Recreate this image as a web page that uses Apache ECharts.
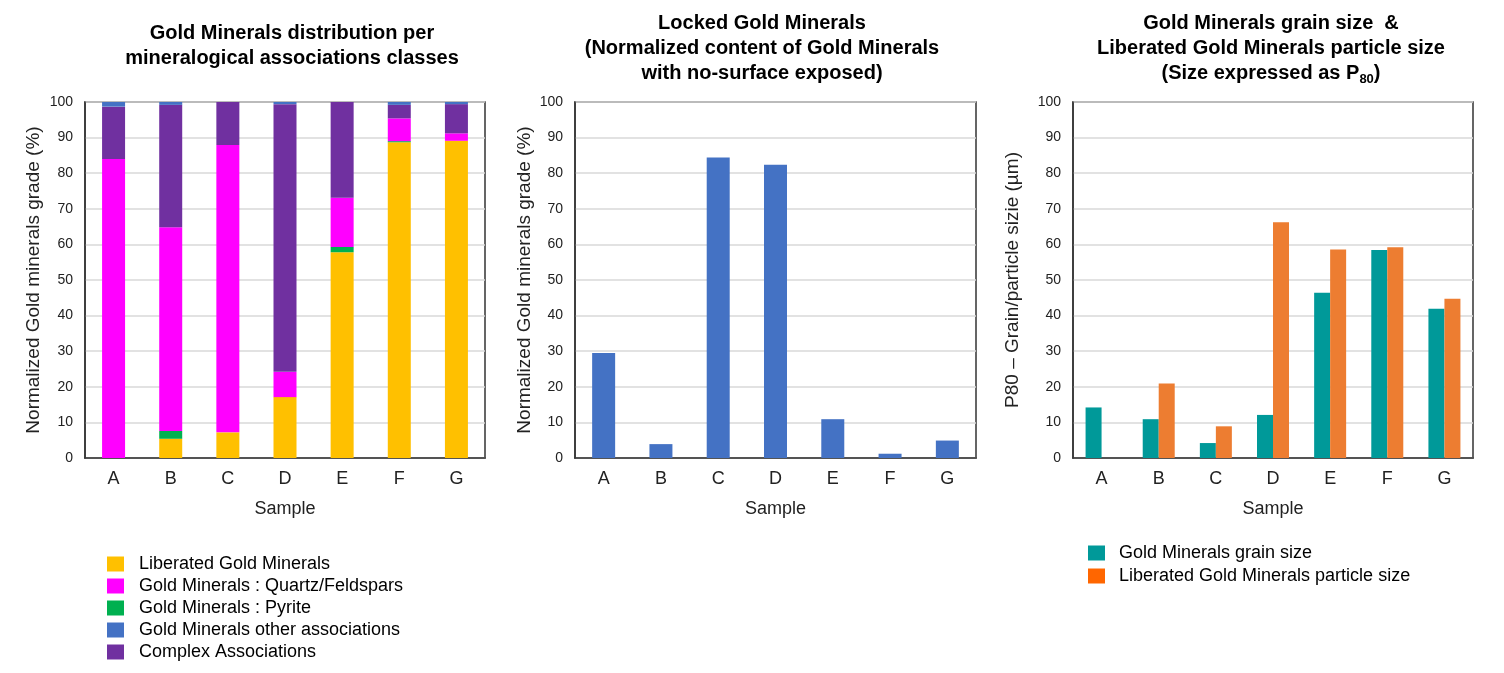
<!DOCTYPE html>
<html><head><meta charset="utf-8">
<script src="https://cdn.jsdelivr.net/npm/echarts@6/dist/echarts.min.js"></script>
<style>html,body{margin:0;padding:0;background:#fff}#c{width:1504px;height:673px}</style>
</head><body><div id="c"></div>
<script>
const samples = ['A','B','C','D','E','F','G'];
const yTicks = [0,10,20,30,40,50,60,70,80,90,100];
// Chart 1: mineralogical association classes (%)
const liberated = [0, 5.4, 7.2, 17.1, 57.8, 88.7, 89.1];
const pyrite = [0, 2.2, 0, 0, 1.5, 0.3, 0];
const quartzFeldspars = [84.0, 57.2, 80.7, 7.1, 13.8, 6.4, 2.1];
const complexAssoc = [14.7, 34.4, 12.1, 75.2, 26.9, 3.8, 8.2];
const otherAssoc = [1.3, 0.8, 0, 0.6, 0, 0.8, 0.6];
// Chart 2: locked gold minerals (%)
const locked = [29.5, 3.9, 84.4, 82.4, 10.9, 1.2, 4.9];
// Chart 3: P80 sizes (µm)
const grainSize = [14.2, 10.9, 4.2, 12.1, 46.4, 58.4, 41.9];
const particleSize = [0, 20.9, 8.9, 66.2, 58.6, 59.2, 44.7];

const FONT = 'Liberation Sans, Arial, sans-serif';
const C = {yellow:'#FFC000', magenta:'#FF00FF', green:'#00B050', blue:'#4472C4', purple:'#7030A0', teal:'#009999', orange:'#ED7D31'};

const grids = [
  {left:85, top:102, width:400, height:356},
  {left:575, top:102, width:401, height:356},
  {left:1073, top:102, width:400, height:356}
];
const yNames = ['Normalized Gold minerals grade (%)','Normalized Gold minerals grade (%)','P80 \u2013 Grain/particle sizie (\u00b5m)'];
const yGaps = [42, 41, 51];
const titleStyle = {fontFamily:FONT, fontSize:20, fontWeight:'bold', color:'#000', lineHeight:25};

const option = {
  animation:false,
  textStyle:{fontFamily:FONT},
  title:[
    {text:'Gold Minerals distribution per\nmineralogical associations classes', left:287, top:16, textAlign:'center', textStyle:titleStyle},
    {text:'Locked Gold Minerals\n(Normalized content of Gold Minerals\nwith no-surface exposed)', left:757, top:6, textAlign:'center', textStyle:titleStyle},
    {text:'Gold Minerals grain size  &\nLiberated Gold Minerals particle size\n(Size expressed as P{s|80})', left:1266, top:6, textAlign:'center',
     textStyle:Object.assign({}, titleStyle, {
       rich:{s:{fontFamily:FONT, fontSize:13, fontWeight:'bold', color:'#000', verticalAlign:'bottom', padding:[10,0,0,0]}}})}
  ],
  legend:[
    {orient:'vertical', left:102, top:550, icon:'rect', itemWidth:17, itemHeight:15, itemGap:4,
     textStyle:{fontFamily:FONT, fontSize:18, color:'#000', padding:[0,0,0,10]},
     data:['Liberated Gold Minerals','Gold Minerals : Quartz/Feldspars','Gold Minerals : Pyrite','Gold Minerals other associations','Complex Associations']},
    {orient:'vertical', left:1083, top:539, icon:'rect', itemWidth:17, itemHeight:15, itemGap:5,
     textStyle:{fontFamily:FONT, fontSize:18, color:'#000', padding:[0,0,0,9]},
     data:[{name:'Gold Minerals grain size', itemStyle:{color:'#009999'}},{name:'Liberated Gold Minerals particle size', itemStyle:{color:'#FF6600'}}]}
  ],
  grid: grids.map(g => Object.assign({show:true, borderColor:'#333', borderWidth:1.5, backgroundColor:'#fff'}, g)),
  xAxis: grids.map((g,i) => ({
    type:'category', gridIndex:i, data:samples,
    name:'Sample', nameLocation:'middle', nameGap:42,
    nameTextStyle:{fontFamily:FONT, fontSize:18, color:'#222'},
    axisLine:{lineStyle:{color:'#333', width:1.5}}, axisTick:{show:false},
    axisLabel:{fontFamily:FONT, fontSize:18, color:'#222', margin:12}
  })),
  yAxis: grids.map((g,i) => ({
    type:'value', gridIndex:i, min:0, max:100, interval:10,
    name:yNames[i], nameLocation:'middle', nameGap:yGaps[i],
    nameTextStyle:{fontFamily:FONT, fontSize:19, color:'#222'},
    axisLine:{show:true, lineStyle:{color:'#333', width:1.5}}, axisTick:{show:false},
    axisLabel:{fontFamily:FONT, fontSize:14, color:'#222', margin:12,
      formatter: v => yTicks.includes(v) ? String(v) : ''},
    splitLine:{lineStyle:{color:'#D9D9D9', width:1.5}}
  })),
  series:[
    {name:'Liberated Gold Minerals', type:'bar', stack:'s', xAxisIndex:0, yAxisIndex:0, barWidth:23, data:liberated, itemStyle:{color:C.yellow}},
    {name:'Gold Minerals : Pyrite', type:'bar', stack:'s', xAxisIndex:0, yAxisIndex:0, barWidth:23, data:pyrite, itemStyle:{color:C.green}},
    {name:'Gold Minerals : Quartz/Feldspars', type:'bar', stack:'s', xAxisIndex:0, yAxisIndex:0, barWidth:23, data:quartzFeldspars, itemStyle:{color:C.magenta}},
    {name:'Complex Associations', type:'bar', stack:'s', xAxisIndex:0, yAxisIndex:0, barWidth:23, data:complexAssoc, itemStyle:{color:C.purple}},
    {name:'Gold Minerals other associations', type:'bar', stack:'s', xAxisIndex:0, yAxisIndex:0, barWidth:23, data:otherAssoc, itemStyle:{color:C.blue}},
    {name:'Locked', type:'bar', xAxisIndex:1, yAxisIndex:1, barWidth:23, data:locked, itemStyle:{color:C.blue}},
    {name:'Gold Minerals grain size', type:'bar', xAxisIndex:2, yAxisIndex:2, barWidth:16, barGap:'0%', data:grainSize, itemStyle:{color:C.teal}},
    {name:'Liberated Gold Minerals particle size', type:'bar', xAxisIndex:2, yAxisIndex:2, barWidth:16, barGap:'0%', data:particleSize, itemStyle:{color:C.orange}}
  ]
};
const chart = echarts.init(document.getElementById('c'), null, {renderer:'canvas'});
chart.setOption(option);
</script></body></html>
